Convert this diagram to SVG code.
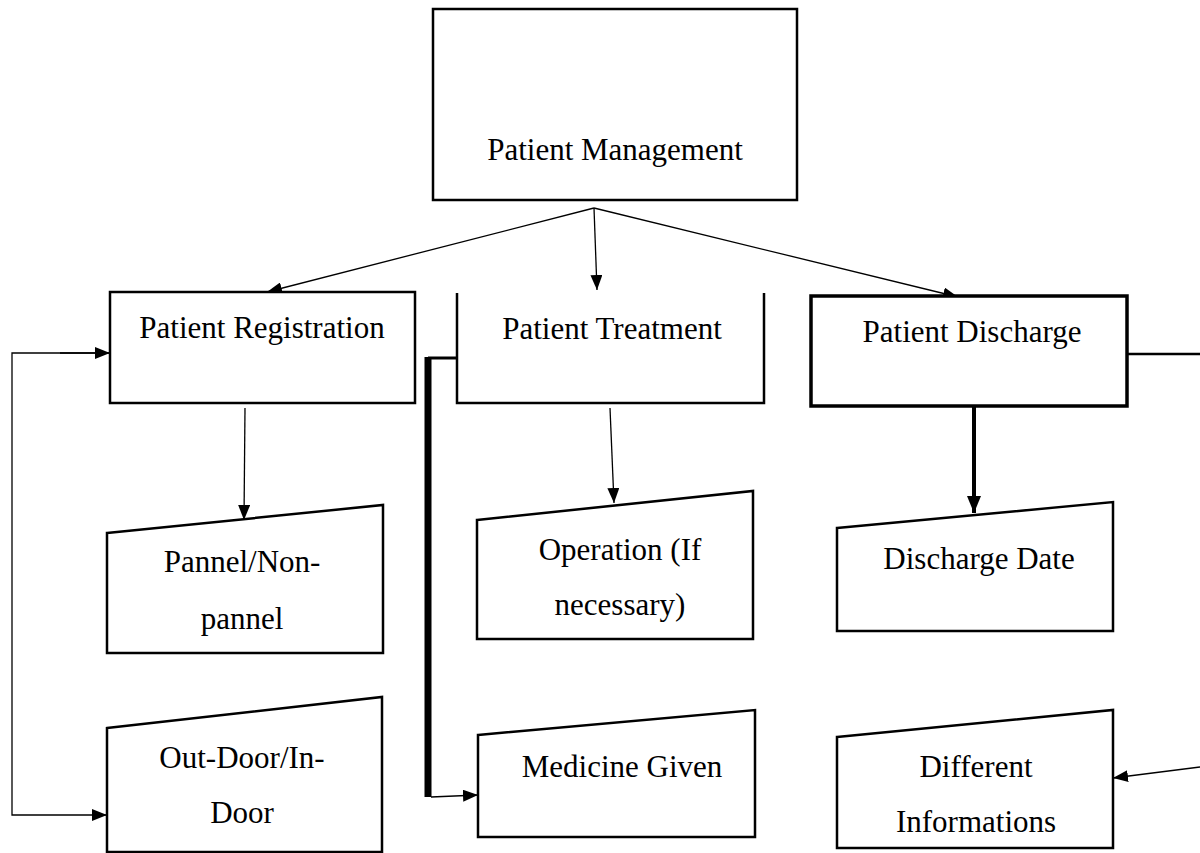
<svg xmlns="http://www.w3.org/2000/svg" width="1200" height="853" viewBox="0 0 1200 853">
  <style>
    .box { fill: #ffffff; stroke: #000000; stroke-width: 2.5; }
    .heavy { stroke-width: 3.5; }
    .lbl { font-family: "Liberation Serif", "Times New Roman", serif; font-size: 31px; fill: #000000; text-anchor: middle; }
    .wire { fill: none; stroke: #000000; stroke-width: 1.3; }
  </style>
  <defs>
    <marker id="head" markerUnits="userSpaceOnUse" markerWidth="16" markerHeight="12" refX="15" refY="6" orient="auto">
      <path d="M0,0 L15,6 L0,12 z" fill="#000000"/>
    </marker>
    <marker id="headBig" markerUnits="userSpaceOnUse" markerWidth="18" markerHeight="14" refX="17" refY="7" orient="auto">
      <path d="M0,0 L17,7 L0,14 z" fill="#000000"/>
    </marker>
  </defs>
  <rect width="1200" height="853" fill="#ffffff"/>

  <!-- connectors -->
  <g id="connectors">
    <line class="wire" x1="594" y1="208" x2="267" y2="292" marker-end="url(#head)"/>
    <line class="wire" x1="594" y1="208" x2="597" y2="290" marker-end="url(#head)"/>
    <line class="wire" x1="594" y1="208" x2="958" y2="297" marker-end="url(#head)"/>
    <line class="wire" x1="245" y1="408" x2="244" y2="520" marker-end="url(#head)"/>
    <line class="wire" x1="610" y1="408" x2="614" y2="503" marker-end="url(#head)"/>
    <line x1="974" y1="407" x2="974" y2="513" stroke="#000000" stroke-width="4" marker-end="url(#headBig)"/>
    <!-- loop on the left: registration and out-door/in-door -->
    <polyline class="wire" points="110,353 12,353 12,815 107,815" marker-end="url(#head)"/>
    <line class="wire" x1="60" y1="353" x2="110" y2="353" marker-end="url(#head)"/>
    <!-- heavy bar from treatment down to medicine -->
    <polyline fill="none" stroke="#000000" stroke-width="3" points="457,358 428,358"/>
    <line x1="428" y1="357" x2="428" y2="797" stroke="#000000" stroke-width="7"/>
    <line class="wire" x1="431" y1="797" x2="478" y2="795" marker-end="url(#head)"/>
    <!-- discharge to different informations, running off the right edge -->
    <line stroke="#000000" stroke-width="2.5" x1="1127" y1="354" x2="1200" y2="354"/>
    <line class="wire" x1="1200" y1="767" x2="1113" y2="778" marker-end="url(#head)"/>
  </g>

  <g id="patient-management">
    <rect class="box" x="433" y="9" width="364" height="191"/>
    <text class="lbl" x="615" y="160">Patient Management</text>
  </g>

  <g id="patient-registration">
    <rect class="box" x="110" y="292" width="305" height="111"/>
    <text class="lbl" x="262" y="338">Patient Registration</text>
  </g>

  <g id="patient-treatment">
    <polyline class="box" fill="none" points="457,293 457,403 764,403 764,293"/>
    <text class="lbl" x="612" y="339">Patient Treatment</text>
  </g>

  <g id="patient-discharge">
    <rect class="box heavy" x="811" y="296" width="316" height="110"/>
    <text class="lbl" x="972" y="342">Patient Discharge</text>
  </g>

  <g id="pannel">
    <polygon class="box" points="107,533 383,505 383,653 107,653"/>
    <text class="lbl" x="242" y="572">Pannel/Non-</text>
    <text class="lbl" x="242" y="629">pannel</text>
  </g>

  <g id="operation">
    <polygon class="box" points="477,520 753,491 753,639 477,639"/>
    <text class="lbl" x="620" y="560">Operation (If</text>
    <text class="lbl" x="620" y="615">necessary)</text>
  </g>

  <g id="discharge-date">
    <polygon class="box" points="837,528 1113,502 1113,631 837,631"/>
    <text class="lbl" x="979" y="569">Discharge Date</text>
  </g>

  <g id="out-door">
    <polygon class="box" points="107,728 382,697 382,852 107,852"/>
    <text class="lbl" x="242" y="768">Out-Door/In-</text>
    <text class="lbl" x="242" y="823">Door</text>
  </g>

  <g id="medicine-given">
    <polygon class="box" points="478,735 755,710 755,837 478,837"/>
    <text class="lbl" x="622" y="777">Medicine Given</text>
  </g>

  <g id="different-informations">
    <polygon class="box" points="837,737 1113,710 1113,848 837,848"/>
    <text class="lbl" x="976" y="777">Different</text>
    <text class="lbl" x="976" y="832">Informations</text>
  </g>
</svg>
